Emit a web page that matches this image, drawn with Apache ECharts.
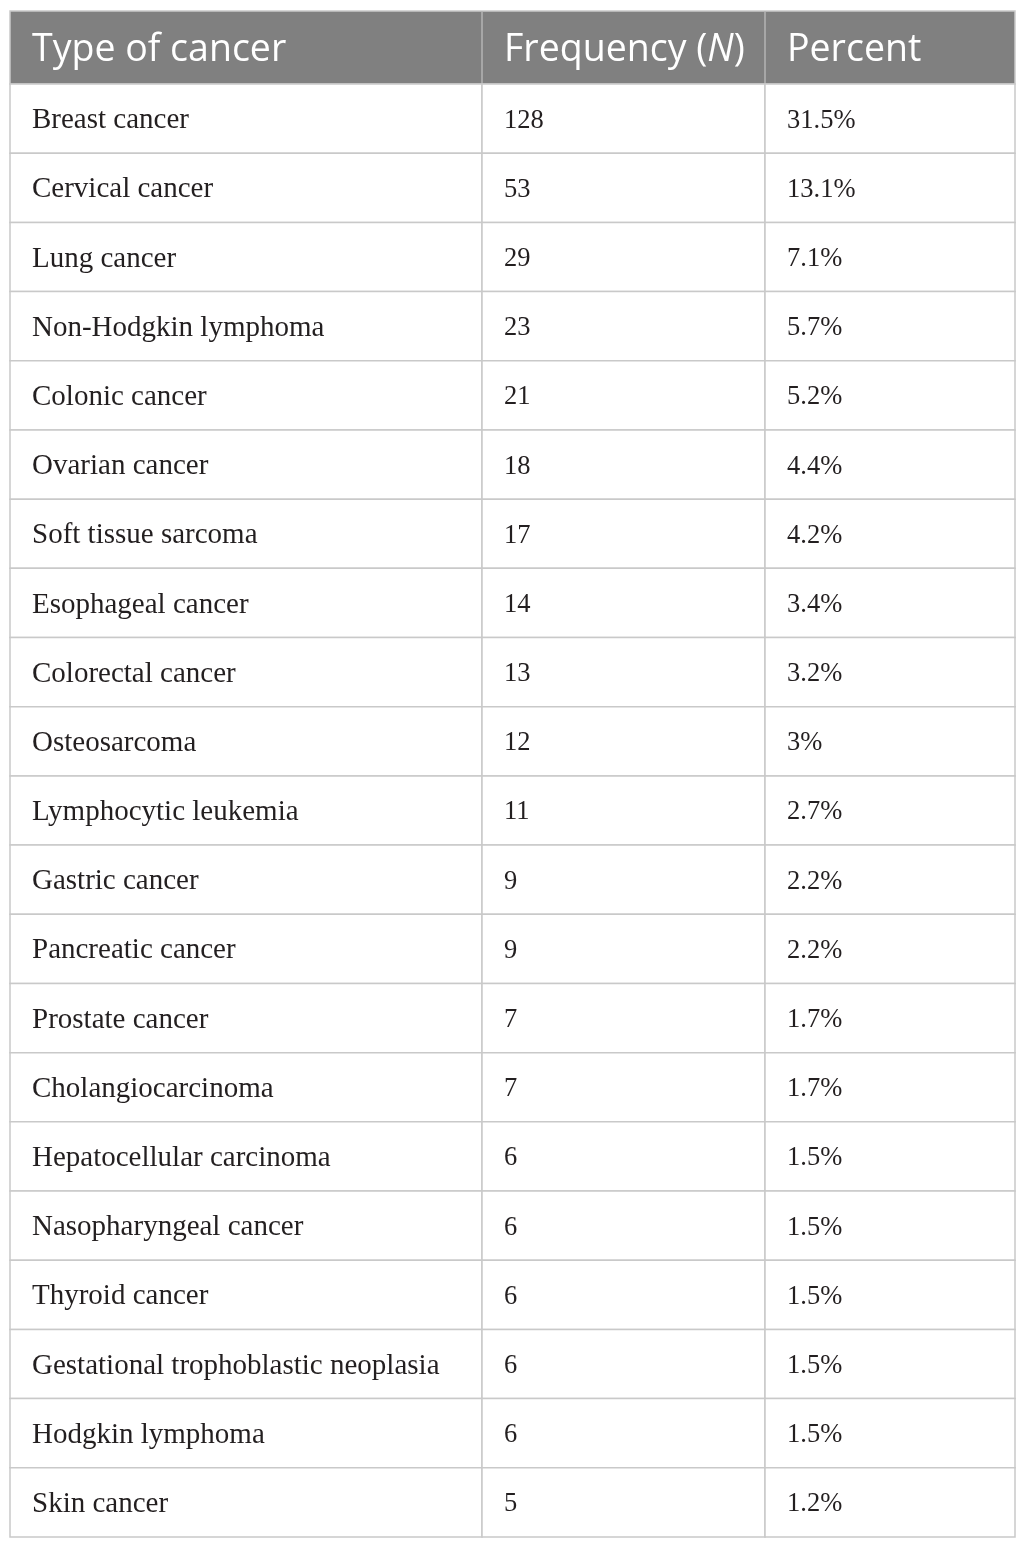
<!DOCTYPE html>
<html><head><meta charset="utf-8">
<script src="https://cdn.jsdelivr.net/npm/echarts@6/dist/echarts.min.js"></script>
<style>html,body{margin:0;padding:0;background:#fff}#c{width:1025px;height:1548px}</style>
</head><body><div id="c"></div>
<script>
const headers = ['Type of cancer', 'Frequency (N)', 'Percent'];
const categories = ['Breast cancer','Cervical cancer','Lung cancer','Non-Hodgkin lymphoma','Colonic cancer','Ovarian cancer','Soft tissue sarcoma','Esophageal cancer','Colorectal cancer','Osteosarcoma','Lymphocytic leukemia','Gastric cancer','Pancreatic cancer','Prostate cancer','Cholangiocarcinoma','Hepatocellular carcinoma','Nasopharyngeal cancer','Thyroid cancer','Gestational trophoblastic neoplasia','Hodgkin lymphoma','Skin cancer'];
const frequency = [128,53,29,23,21,18,17,14,13,12,11,9,9,7,7,6,6,6,6,6,5];
const percent = [31.5,13.1,7.1,5.7,5.2,4.4,4.2,3.4,3.2,3,2.7,2.2,2.2,1.7,1.7,1.5,1.5,1.5,1.5,1.5,1.2];

const edges = [0, 472, 755, 1005];
const lineColor = '#c9c9c9';
const pad = 22;
const bodySizes = [29, 26.5, 26.5];
const headSize = 37.5;

function cellTexts(i) {
  return [categories[i], String(frequency[i]), percent[i] + '%'];
}

const chart = echarts.init(document.getElementById('c'), null, {renderer: 'canvas'});
chart.setOption({
  animation: false,
  grid: [
    {left: 10, right: 10, top: 11, height: 73},
    {left: 10, right: 10, top: 84, bottom: 11}
  ],
  xAxis: [
    {gridIndex: 0, type: 'value', min: 0, max: 1005, show: false},
    {gridIndex: 1, type: 'value', min: 0, max: 1005, show: false}
  ],
  yAxis: [
    {gridIndex: 0, type: 'category', data: ['header'], show: false},
    {gridIndex: 1, type: 'category', data: categories, inverse: true, show: false}
  ],
  series: [
    {
      type: 'custom', xAxisIndex: 0, yAxisIndex: 0,
      data: [[0]],
      renderItem: function (params, api) {
        const c = api.coord([0, 0]);
        const h = api.size([0, 1])[1];
        const top = c[1] - h / 2;
        const children = [];
        const x0 = api.coord([edges[0], 0])[0];
        const x3 = api.coord([edges[3], 0])[0];
        children.push({type: 'rect', shape: {x: x0, y: top, width: x3 - x0, height: h},
          style: {fill: '#808080', stroke: lineColor, lineWidth: 1.5}});
        for (let k = 1; k < 3; k++) {
          const xe = api.coord([edges[k], 0])[0];
          children.push({type: 'line', shape: {x1: xe, y1: top, x2: xe, y2: top + h},
            style: {stroke: '#b5b5b5', lineWidth: 1.5}});
        }
        for (let k = 0; k < 3; k++) {
          const xs = api.coord([edges[k], 0])[0] + pad;
          let txt = headers[k];
          let rich = {};
          if (k === 1) {
            txt = 'Frequency ({i|N})';
            rich = {i: {fontStyle: 'italic', fontFamily: 'Open Sans', fontSize: headSize, fill: '#fff'}};
          }
          children.push({type: 'text', x: xs, y: c[1] + 3,
            style: {text: txt, rich: rich, fill: '#ffffff', fontFamily: 'Open Sans', fontSize: headSize,
              verticalAlign: 'middle', align: 'left'}});
        }
        return {type: 'group', children: children};
      }
    },
    {
      type: 'custom', xAxisIndex: 1, yAxisIndex: 1,
      data: categories.map((c, i) => [i]),
      renderItem: function (params, api) {
        const i = params.dataIndex;
        const c = api.coord([0, i]);
        const h = api.size([0, 1])[1];
        const top = c[1] - h / 2;
        const texts = cellTexts(i);
        const children = [];
        for (let k = 0; k < 3; k++) {
          const xa = api.coord([edges[k], i])[0];
          const xb = api.coord([edges[k + 1], i])[0];
          children.push({type: 'rect', shape: {x: xa, y: top, width: xb - xa, height: h},
            style: {fill: '#ffffff', stroke: lineColor, lineWidth: 1.5}});
          children.push({type: 'text', x: xa + pad, y: c[1] + 2,
            style: {text: texts[k], fill: '#231f20', fontFamily: 'Liberation Serif', fontSize: bodySizes[k],
              verticalAlign: 'middle', align: 'left'}});
        }
        return {type: 'group', children: children};
      }
    }
  ]
});
</script></body></html>
